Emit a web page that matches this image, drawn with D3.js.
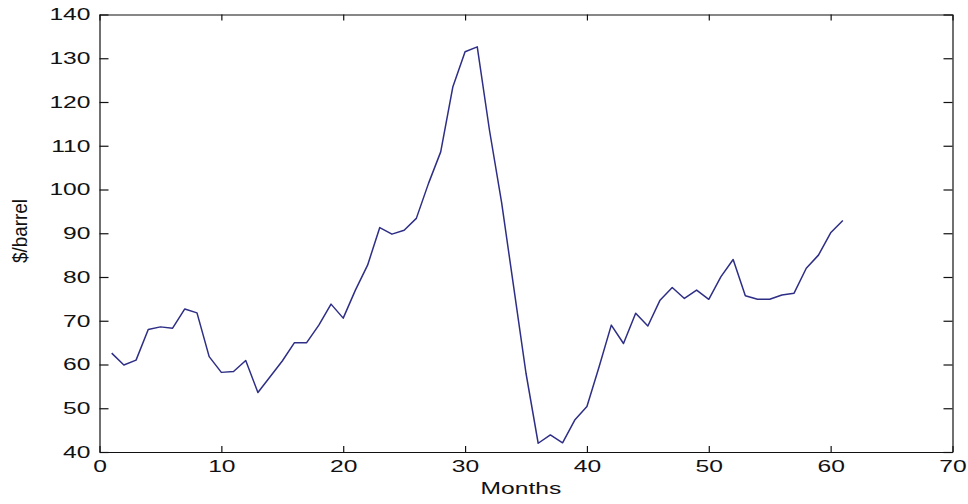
<!DOCTYPE html>
<html>
<head>
<meta charset="utf-8">
<script src="https://cdn.jsdelivr.net/npm/d3@7"></script>
<style>
  body { margin: 0; background: #fff; }
  svg text { font-family: "Liberation Sans", Arial, sans-serif; fill: #111; }
</style>
</head>
<body>
<svg id="chart" width="968" height="504"></svg>
<script>
// month index
const months = [1, 2, 3, 4, 5, 6, 7, 8, 9, 10, 11, 12, 13, 14, 15, 16, 17, 18, 19, 20,
  21, 22, 23, 24, 25, 26, 27, 28, 29, 30, 31, 32, 33, 34, 35, 36, 37, 38, 39, 40,
  41, 42, 43, 44, 45, 46, 47, 48, 49, 50, 51, 52, 53, 54, 55, 56, 57, 58, 59, 60, 61];
// oil price, $/barrel
const price = [62.6, 59.9, 61.0, 68.0, 68.6, 68.3, 72.7, 71.8, 61.8, 58.2, 58.4, 60.9, 53.6, 57.2, 60.8,
  65.0, 65.0, 69.0, 73.8, 70.6, 77.0, 82.7, 91.3, 89.8, 90.7, 93.4, 101.4, 108.6, 123.5, 131.5,
  132.6, 113.6, 97.0, 77.5, 58.0, 42.0, 43.9, 42.1, 47.3, 50.4, 59.5, 69.0, 64.8, 71.7, 68.8,
  74.7, 77.6, 75.1, 77.0, 74.9, 80.1, 84.0, 75.7, 74.9, 74.9, 75.9, 76.3, 82.0, 85.0, 90.1, 92.9];
const xTicks = [0, 10, 20, 30, 40, 50, 60, 70];
const yTicks = [40, 50, 60, 70, 80, 90, 100, 110, 120, 130, 140];

const svg = d3.select("#chart");
const plotLeft = 99.5, plotRight = 952.5, plotTop = 14.5, plotBottom = 452;
const stretch = 1.45; // labels in the picture are wide

const x = d3.scaleLinear().domain([0, 70]).range([plotLeft, plotRight]);
const y = d3.scaleLinear().domain([40, 140]).range([plotBottom, plotTop]);

// the data line
const line = d3.line().x((d, i) => x(months[i])).y(d => y(d));
svg.append("path").datum(price)
  .attr("d", line)
  .attr("fill", "none")
  .attr("stroke", "#2e2e86")
  .attr("stroke-width", 1.5)
  .attr("stroke-linejoin", "round");

// axes, ticks pointing inward on every side
const gx = svg.append("g").attr("transform", `translate(0,${plotBottom})`)
  .call(d3.axisBottom(x).tickValues(xTicks).tickSizeInner(-6).tickSizeOuter(0).tickPadding(8));
const gy = svg.append("g").attr("transform", `translate(${plotLeft},0)`)
  .call(d3.axisLeft(y).tickValues(yTicks).tickSizeInner(-9).tickSizeOuter(0).tickPadding(6.2));
svg.append("g").attr("transform", `translate(0,${plotTop})`)
  .call(d3.axisTop(x).tickValues(xTicks).tickSizeInner(-6).tickSizeOuter(0).tickFormat(""));
svg.append("g").attr("transform", `translate(${plotRight},0)`)
  .call(d3.axisRight(y).tickValues(yTicks).tickSizeInner(-9).tickSizeOuter(0).tickFormat(""));

svg.selectAll(".domain, .tick line").attr("stroke", "#111").attr("stroke-width", 1.2);
gx.selectAll("text").attr("font-size", 17).attr("transform", `scale(${stretch},1)`);
gy.selectAll("text").attr("font-size", 17).attr("transform", `scale(${stretch},1)`);

// axis labels
svg.append("text")
  .attr("x", 521 / stretch).attr("y", 494)
  .attr("transform", `scale(${stretch},1)`)
  .attr("text-anchor", "middle").attr("font-size", 17)
  .text("Months");
svg.append("text")
  .attr("transform", `translate(27,231) rotate(-90) scale(1,${stretch})`)
  .attr("text-anchor", "middle").attr("font-size", 14)
  .attr("textLength", 64).attr("lengthAdjust", "spacingAndGlyphs")
  .text("$/barrel");
</script>
</body>
</html>
